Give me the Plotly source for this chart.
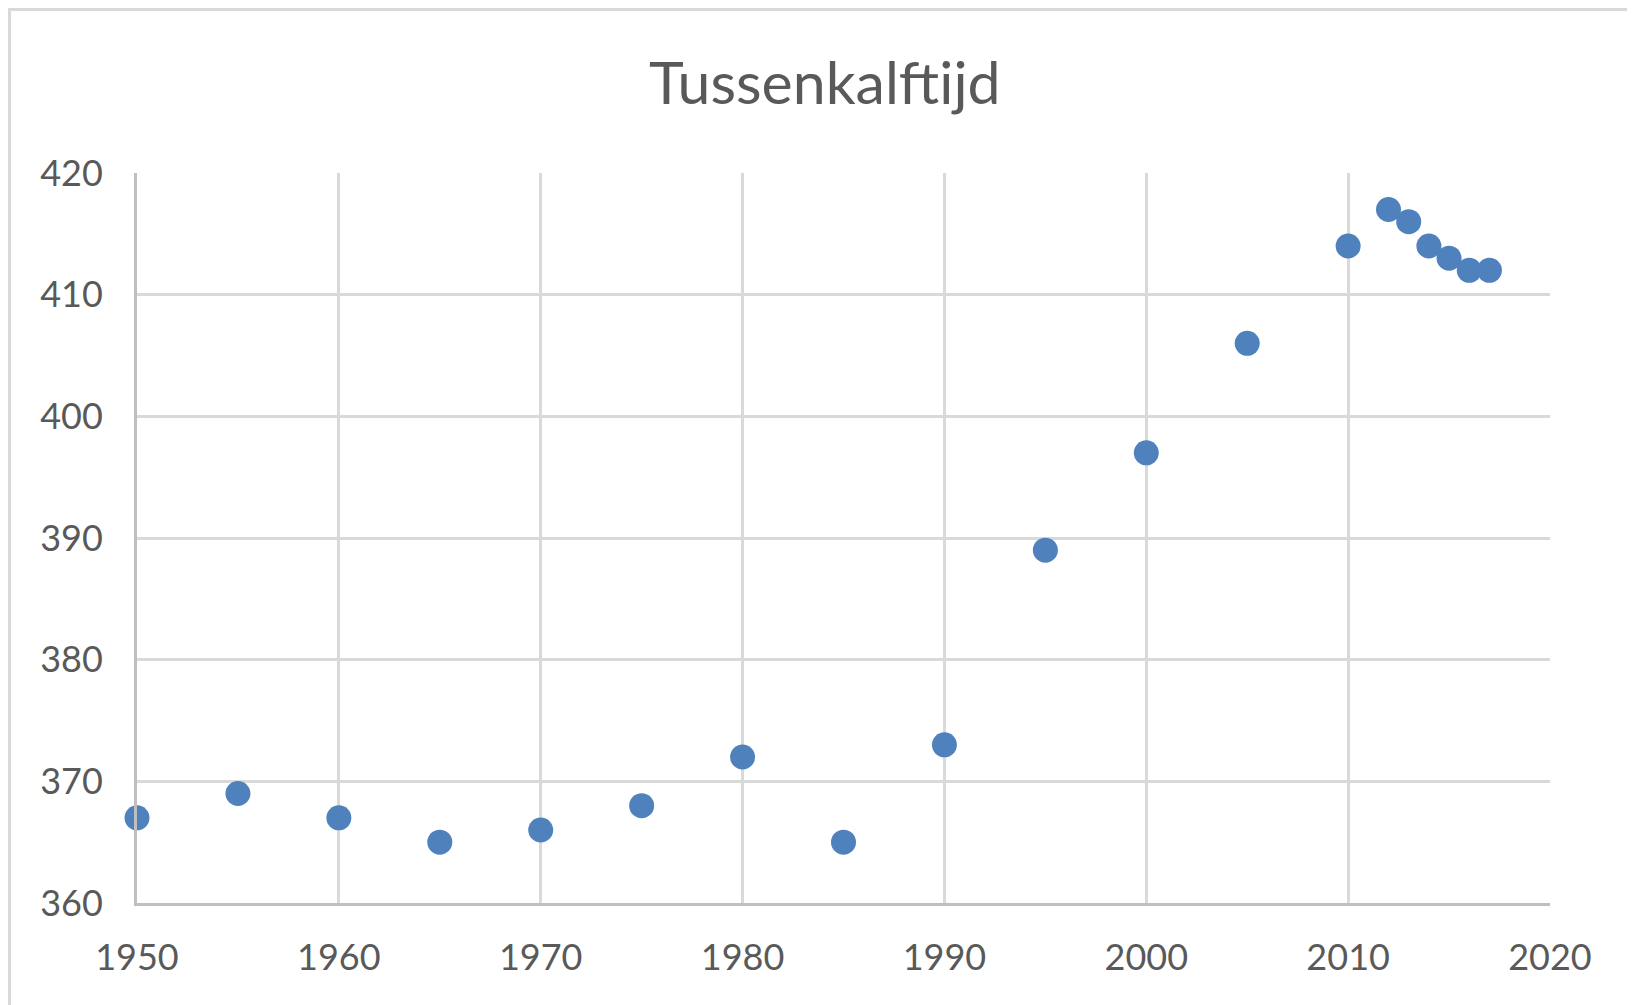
import plotly.graph_objects as go

years = [1950, 1955, 1960, 1965, 1970, 1975, 1980, 1985, 1990, 1995, 2000, 2005, 2010,
         2012, 2013, 2014, 2015, 2016, 2017]
values = [367, 369, 367, 365, 366, 368, 372, 365, 373, 389, 397, 406, 414,
          417, 416, 414, 413, 412, 412]
x_ticks = [1950, 1960, 1970, 1980, 1990, 2000, 2010, 2020]
y_ticks = [360, 370, 380, 390, 400, 410, 420]
title = "Tussenkalftijd"

# page has an 8px body margin, so the figure is sized to fill the rest
W, H = 1627, 997
L, R, T, B = 129, 85, 165, 102
pw, ph = W - L - R, H - T - B

fig = go.Figure()
fig.add_trace(go.Scatter(
    x=years, y=values, mode="markers",
    marker=dict(size=25, color="#4F81BD", line=dict(width=0)),
    showlegend=False, cliponaxis=False,
))

font_fam = "Lato, 'Open Sans', sans-serif"
fig.update_layout(
    width=W, height=H,
    margin=dict(l=L, r=R, t=T, b=B),
    paper_bgcolor="white", plot_bgcolor="white",
    title=dict(text=title, x=0.502, xref="container", xanchor="center",
               y=1 - 75 / H, yanchor="middle",
               font=dict(family=font_fam, size=59, color="#595959")),
    font=dict(family=font_fam, color="#595959"),
    xaxis=dict(range=[1950, 2020], tickvals=x_ticks, ticktext=[str(v) for v in x_ticks],
               showgrid=True, gridcolor="#D9D9D9", gridwidth=3,
               showline=True, linecolor="#BFBFBF", linewidth=3, mirror=False,
               zeroline=False, ticks="outside", ticklen=21, tickcolor="rgba(0,0,0,0)",
               tickfont=dict(family=font_fam, size=36, color="#595959")),
    yaxis=dict(range=[360, 420], tickvals=y_ticks, ticktext=[str(v) for v in y_ticks],
               showgrid=True, gridcolor="#D9D9D9", gridwidth=3,
               showline=True, linecolor="#BFBFBF", linewidth=3,
               zeroline=False, ticks="outside", ticklen=24, tickcolor="rgba(0,0,0,0)",
               tickfont=dict(family=font_fam, size=36, color="#595959")),
)

# chart outer border (only left and top visible in reference)
fig.add_shape(type="rect", xref="paper", yref="paper",
              x0=(1 - L) / pw, x1=(W + 10 - L) / pw,
              y0=(T + ph - (H + 10)) / ph, y1=(T + ph - 1) / ph,
              line=dict(color="#D9D9D9", width=4), layer="below")

fig.write_html("out.html")
